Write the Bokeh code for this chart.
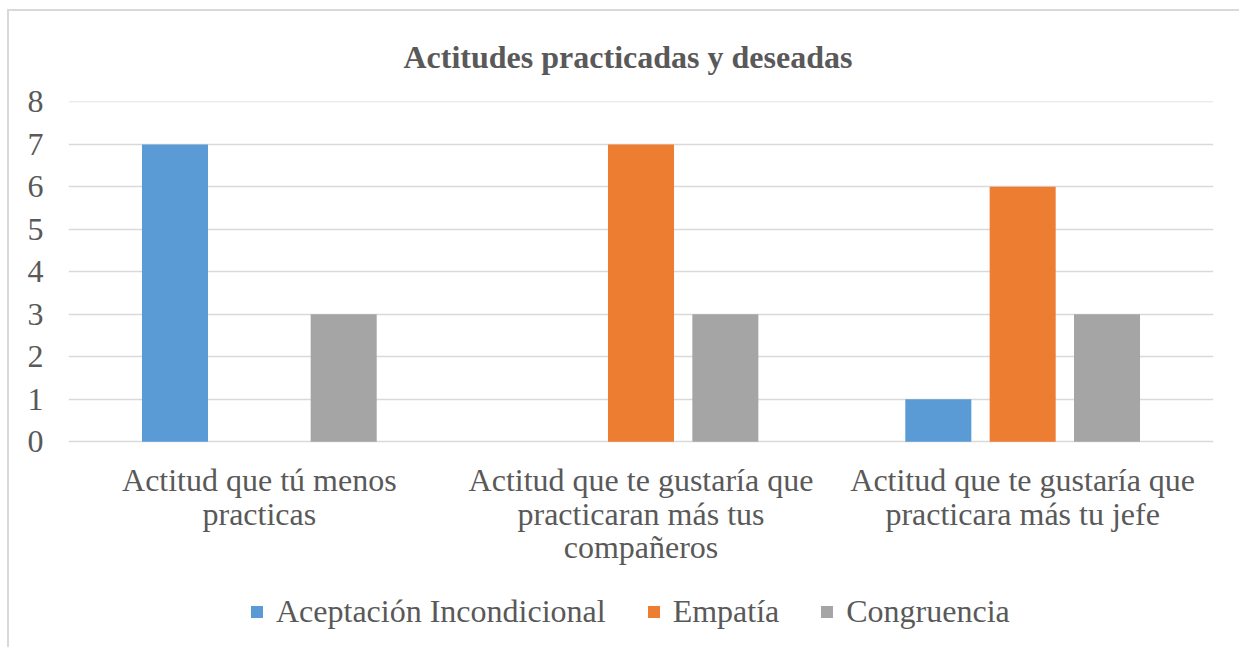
from bokeh.plotting import figure
from bokeh.models import (ColumnDataSource, FactorRange, Range1d, Legend, LegendItem,
                          FixedTicker)
from bokeh.core.properties import value
from bokeh.transform import dodge
from bokeh.embed import file_html
from bokeh.resources import INLINE

categories = [
    "Actitud que tú menos\npracticas",
    "Actitud que te gustaría que\npracticaran más tus\ncompañeros",
    "Actitud que te gustaría que\npracticara más tu jefe",
]
series_names = ["Aceptación Incondicional", "Empatía", "Congruencia"]
aceptacion = [7, 0, 1]
empatia = [0, 7, 6]
congruencia = [3, 3, 3]
y_ticks = [0, 1, 2, 3, 4, 5, 6, 7, 8]
colors = ["#5B9BD5", "#ED7D31", "#A5A5A5"]
title_text = "Actitudes practicadas y deseadas"

FONT = "Liberation Serif"
TXT = "#595959"
GRID = "#D9D9D9"

source = ColumnDataSource(dict(cat=categories, a=aceptacion, e=empatia, c=congruencia,
                               label_y=[-0.49] * len(categories)))

# frame spans from y=101 down to the bottom of the canvas; the value axis (0..8)
# occupies its upper part, the category labels and legend sit below zero
p = figure(x_range=FactorRange(*categories), y_range=Range1d(-4.847, 8.01),
           width=1239, height=647, output_backend="svg", toolbar_location=None,
           x_axis_location=None,
           min_border_left=68, min_border_right=26, min_border_top=101, min_border_bottom=0)
p.border_fill_color = None
p.styles = {
    "background-color": "white",
    "background-image": "linear-gradient(#D9D9D9, #D9D9D9), linear-gradient(#D9D9D9, #D9D9D9)",
    "background-position": "7px 9px, 7px 9px",
    "background-size": "2px 100%, 100% 2px",
    "background-repeat": "no-repeat",
}

p.title.text = title_text
p.title.text_font = FONT
p.title.text_font_size = "32px"
p.title.text_font_style = "bold"
p.title.text_color = TXT
p.title.align = "left"
p.title.standoff = 53
p.title.offset = 335

offsets = [-0.221, 0.0, 0.221]
width = 0.173
renderers = []
for col, off, colr in zip(["a", "e", "c"], offsets, colors):
    r = p.vbar(x=dodge("cat", off, range=p.x_range), top=col, width=width, source=source,
               fill_color=colr, line_color=None)
    renderers.append(r)

# category labels
p.text(x="cat", y="label_y", text="cat", source=source, text_align="center",
       text_baseline="top", text_font=value(FONT), text_font_size="32px",
       text_color=TXT, text_line_height=0.93)

p.outline_line_color = None
p.xgrid.grid_line_color = None
p.yaxis.ticker = FixedTicker(ticks=y_ticks)
p.ygrid.grid_line_color = GRID
p.ygrid.grid_line_width = 1.3
p.yaxis.axis_line_color = None
p.yaxis.major_tick_line_color = None
p.yaxis.minor_tick_line_color = None
p.yaxis.major_label_text_font = FONT
p.yaxis.major_label_text_font_size = "32px"
p.yaxis.major_label_text_color = TXT
p.yaxis.major_label_standoff = 19

legend = Legend(items=[LegendItem(label=n, renderers=[r]) for n, r in zip(series_names, renderers)],
                orientation="horizontal", location=(181, 17))
legend.label_text_font = FONT
legend.label_text_font_size = "32px"
legend.label_text_color = TXT
legend.glyph_width = 15
legend.glyph_height = 15
legend.label_standoff = 12
legend.spacing = 40
legend.border_line_color = None
legend.background_fill_alpha = 0
legend.padding = 0
legend.margin = 0
p.add_layout(legend, "center")

open("out.html", "w").write(file_html(p, INLINE))
